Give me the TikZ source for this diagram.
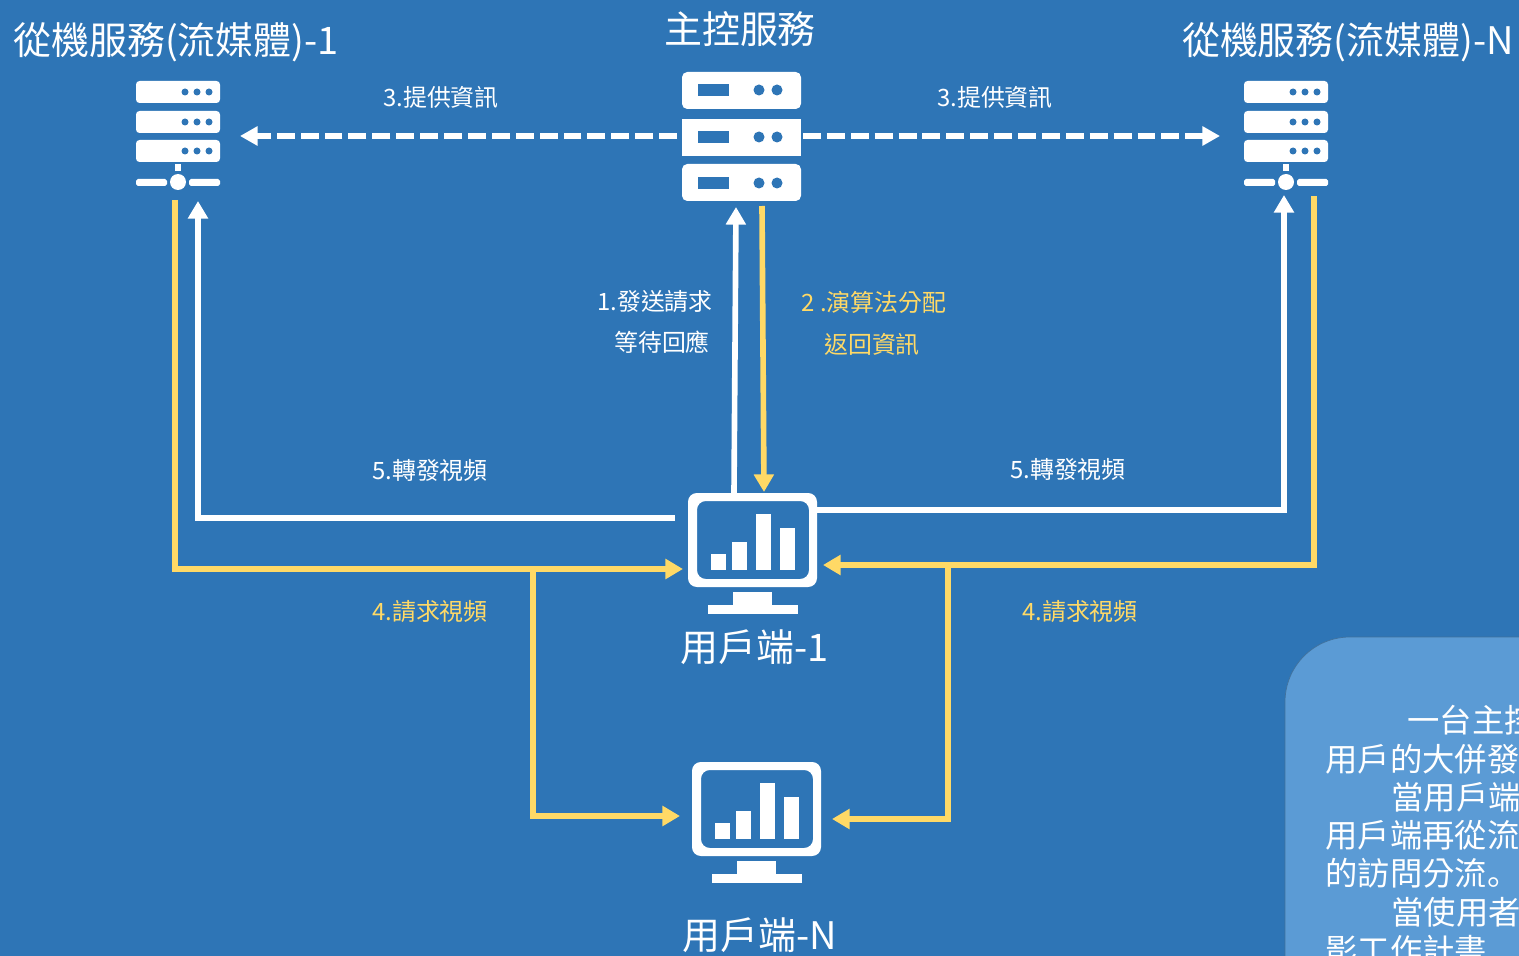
\documentclass[tikz,border=0pt]{standalone}
\usepackage{fontspec}
\setmainfont{Noto Sans CJK TC}
\newfontfamily\scfont{Noto Sans CJK SC}
\usetikzlibrary{arrows.meta}
\definecolor{bgblue}{HTML}{2E75B6}
\definecolor{panelblue}{HTML}{5B9BD5}
\definecolor{panelline}{HTML}{41719C}
\definecolor{flowyellow}{HTML}{FFD966}
\tikzset{
	x = 0.02cm, y = -0.02cm,
	title/.style = {text = white, inner sep = 0pt, font = \fontsize{21.6}{21.6}\selectfont},
	whitelabel/.style = {text = white, inner sep = 0pt, font = \fontsize{13.6}{13.6}\selectfont},
	yellowlabel/.style = {whitelabel, text = flowyellow},
	paneltext/.style = {text = white, inner sep = 0pt, anchor = west, font = \fontsize{18.4}{18.4}\selectfont},
	iconbox/.style = {inner sep = 0pt, minimum width = 2.6cm, minimum height = 2.6cm},
	whiteflow/.style = {draw = white, line width = 3.2pt, -{Triangle[length = 10pt, width = 11pt]}},
	yellowflow/.style = {whiteflow, draw = flowyellow},
	provide/.style = {draw = white, line width = 3.4pt, dash pattern = on 10.2pt off 3.4pt,
		-{Triangle[length = 10pt, width = 10.5pt]}},
	mastericon/.pic = {
		\fill[white, rounded corners = 3pt] (0,37) -- (0,0) -- (119,0) -- (119,37) -- cycle;
		\fill[white] (0,47) rectangle (119,84);
		\fill[white, rounded corners = 3pt] (0,92) -- (119,92) -- (119,129) -- (0,129) -- cycle;
		\foreach \y in {18,65,111} {
			\fill[bgblue] (16,\y-6) rectangle (47,\y+6);
			\fill[bgblue] (77,\y) circle (5.5);
			\fill[bgblue] (95,\y) circle (5.5);
		}
	},
	slaveicon/.pic = {
		\foreach \y in {0,30,59} {
			\fill[white, rounded corners = 2pt] (0,\y) rectangle (84,\y+22);
			\foreach \x in {49,61,73} {
				\fill[bgblue] (\x,\y+11) circle (3.5);
			}
		}
		\fill[white] (39,83) rectangle (45,90);
		\fill[white, rounded corners = 1pt] (0,98) rectangle (31,105);
		\fill[white, rounded corners = 1pt] (53,98) rectangle (84,105);
		\fill[white] (42,101) circle (8);
	},
	monitoricon/.pic = {
		\fill[white, even odd rule, rounded corners = 5pt] (0,0) rectangle (129,94)
			(9,8) rectangle (121,86);
		\fill[white] (23,61) rectangle (38,77);
		\fill[white] (44,49) rectangle (59,77);
		\fill[white] (68,21) rectangle (83,77);
		\fill[white] (92,35) rectangle (107,77);
		\fill[white] (45,99) rectangle (84,112);
		\fill[white] (20,112) rectangle (110,121);
	}
}
\begin{document}
\begin{tikzpicture}

	\useasboundingbox (0,0) rectangle (1519,956);
	\fill[bgblue] (0,0) rectangle (1519,956);

	\begin{scope}
		\clip (0,0) rectangle (1519,956);
		\draw[draw = panelline, fill = panelblue, rounded corners = 1.3cm] (1285,637) rectangle (1700,1100);
		\draw (1407,720) node[paneltext] (line1) {一台主控};
		\draw (1325,759) node[paneltext] (line2) {用戶的大併發};
		\draw (1391,797) node[paneltext] (line3) {當用戶端};
		\draw (1325,835) node[paneltext] (line4) {用戶端再從流};
		\draw (1325,873) node[paneltext] (line5) {的訪問分流{\scfont 。}};
		\draw (1391,912) node[paneltext] (line6) {當使用者};
		\draw (1325,950) node[paneltext] (line7) {影工作計書};
	\end{scope}

	\draw (741,136) node[iconbox] (master) {};
	\draw (178,133) node[iconbox] (slaveA) {};
	\draw (1286,133) node[iconbox] (slaveN) {};
	\draw (753,553) node[iconbox] (clientA) {};
	\draw (757,822) node[iconbox] (clientN) {};

	\pic at (682,72) {mastericon};
	\pic at (136,81) {slaveicon};
	\pic at (1244,81) {slaveicon};
	\pic at (688,493) {monitoricon};
	\pic at (692,762) {monitoricon};

	\draw (740,29) node[title] (masterT) {主控服務};
	\draw (176,42) node[title] (slaveAT) {從機服務(流媒體)-1};
	\draw (1348,42) node[title] (slaveNT) {從機服務(流媒體)-N};
	\draw (755,647) node[title] (clientAT) {用戶端-1};
	\draw (760,935) node[title] (clientNT) {用戶端-N};

	\coordinate (masterL) at (677,136);
	\coordinate (masterR) at (803,136);
	\coordinate (slaveAR) at (240,136);
	\coordinate (slaveNL) at (1220,136);
	\coordinate (masterIn) at (736,207);
	\coordinate (masterOut) at (762,206);
	\coordinate (clientAup) at (734,493);
	\coordinate (clientAdown) at (764,492);
	\coordinate (clientAL) at (675,518);
	\coordinate (clientAR) at (817,510);
	\coordinate (leftWhite) at (198,518);
	\coordinate (slaveAin) at (198,201);
	\coordinate (slaveAout) at (175,200);
	\coordinate (leftYellow) at (175,569);
	\coordinate (clientAinL) at (683,569);
	\coordinate (branchL) at (533,569);
	\coordinate (branchLow) at (533,816);
	\coordinate (clientNinL) at (680,816);
	\coordinate (rightWhite) at (1284,510);
	\coordinate (slaveNin) at (1284,195);
	\coordinate (slaveNout) at (1314,196);
	\coordinate (rightYellow) at (1314,565);
	\coordinate (clientAinR) at (823,565);
	\coordinate (branchR) at (948,565);
	\coordinate (branchRow) at (948,819);
	\coordinate (clientNinR) at (832,819);

	\draw[provide] (masterL) -- (slaveAR);
	\draw[provide] (masterR) -- (slaveNL);
	\draw[whiteflow] (clientAup) -- (masterIn);
	\draw[yellowflow] (masterOut) -- (clientAdown);
	\draw[whiteflow] (clientAL) -- (leftWhite) -- (slaveAin);
	\draw[yellowflow] (slaveAout) -- (leftYellow) -- (clientAinL);
	\draw[yellowflow] (branchL) -- (branchLow) -- (clientNinL);
	\draw[whiteflow] (clientAR) -- (rightWhite) -- (slaveNin);
	\draw[yellowflow] (slaveNout) -- (rightYellow) -- (clientAinR);
	\draw[yellowflow] (branchR) -- (branchRow) -- (clientNinR);

	\draw (441,97) node[whitelabel] (provideL) {3.提供資訊};
	\draw (995,97) node[whitelabel] (provideR) {3.提供資訊};
	\draw (655,302) node[whitelabel] (sendA) {1.發送請求};
	\draw (662,342) node[whitelabel] (sendB) {等待回應};
	\draw (874,302) node[yellowlabel] (allotA) {2 .演算法分配};
	\draw (872,344) node[yellowlabel] (allotB) {返回資訊};
	\draw (430,470) node[whitelabel] (relayL) {5.轉發視頻};
	\draw (1068,469) node[whitelabel] (relayR) {5.轉發視頻};
	\draw (430,612) node[yellowlabel] (askL) {4.請求視頻};
	\draw (1080,612) node[yellowlabel] (askR) {4.請求視頻};
\end{tikzpicture}
\end{document}
